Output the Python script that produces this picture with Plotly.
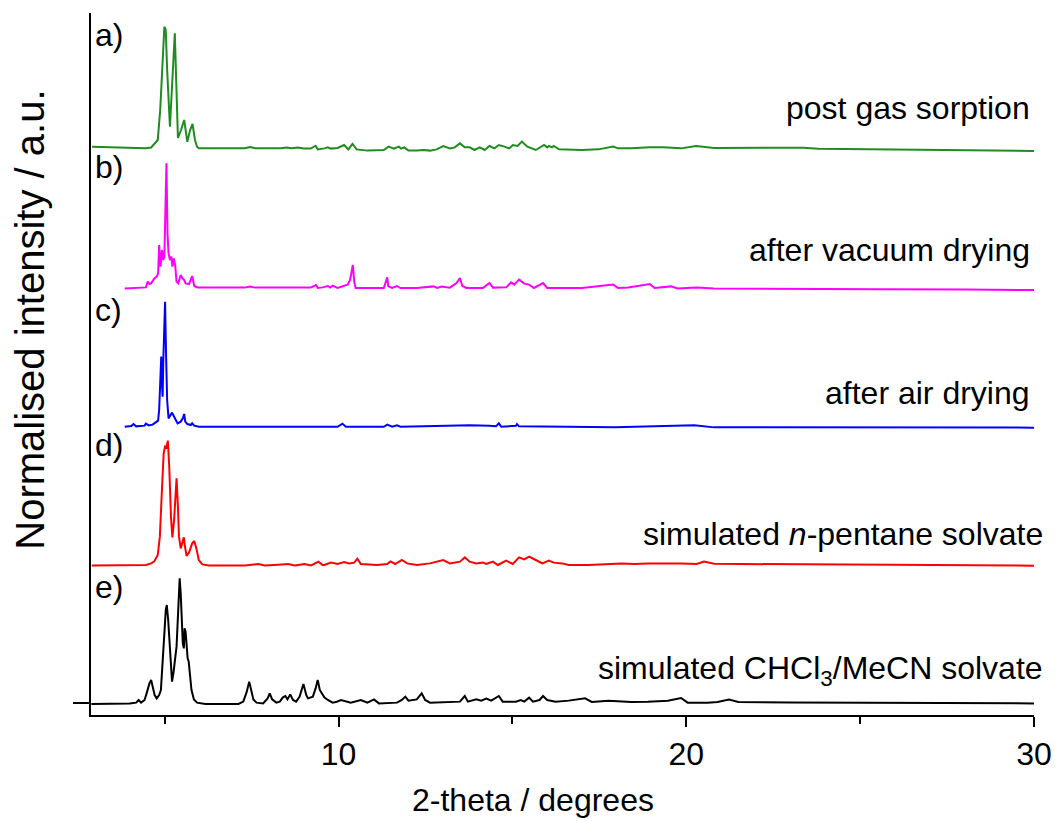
import plotly.graph_objects as go

# ---- data (2-theta in degrees, normalised intensity relative to each trace baseline) ----
green_x = [2.91, 3.5, 4.0, 4.46, 4.61, 4.80, 4.87, 4.93, 4.99, 5.03, 5.07, 5.15, 5.21, 5.29, 5.33, 5.38,
           5.47, 5.56, 5.65, 5.73, 5.80, 5.87, 5.93, 5.98, 6.5, 7.3, 7.46, 7.6, 8.35, 8.50, 8.65, 8.83,
           9.0, 9.2, 9.34, 9.40, 9.59, 9.69, 9.78, 9.88, 9.97, 10.16, 10.28, 10.40, 10.52, 10.83, 11.30,
           11.44, 11.59, 11.73, 11.80, 11.89, 12.01, 12.25, 12.44, 12.63, 12.82, 13.01, 13.20, 13.34,
           13.49, 13.63, 13.77, 13.91, 14.06, 14.20, 14.34, 14.48, 14.61, 14.77, 14.91, 15.01, 15.15,
           15.27, 15.43, 15.67, 15.91, 16.00, 16.05, 16.14, 16.19, 16.34, 17.00, 17.47, 17.90, 18.04,
           18.42, 18.95, 19.33, 19.85, 20.28, 20.80, 21.2, 21.56, 22.5, 23.36, 23.8, 25.36, 26.5, 27.25,
           28.5, 30.0]
green_y = [0.0, -0.005, -0.01, -0.012, -0.006, 0.054, 0.294, 0.694, 0.960, 0.934, 0.614, 0.160, 0.454,
           0.908, 0.534, 0.070, 0.134, 0.214, 0.040, 0.134, 0.182, 0.054, 0.0, -0.012, -0.012, -0.012,
           -0.003, -0.012, -0.012, -0.006, -0.012, -0.006, -0.014, -0.014, 0.008, -0.021, -0.013, -0.005,
           -0.015, -0.013, -0.010, 0.014, -0.021, 0.022, -0.021, -0.031, -0.026, 0.001, -0.015, 0.001,
           -0.015, -0.005, -0.031, -0.031, -0.026, -0.031, -0.021, 0.006, -0.013, -0.005, 0.027, -0.005,
           -0.005, -0.026, -0.005, -0.026, 0.006, -0.013, 0.014, 0.001, -0.013, 0.014, 0.006, 0.041,
           0.001, -0.026, 0.014, -0.005, 0.006, -0.005, 0.006, -0.021, -0.026, -0.021, 0.001, -0.013,
           -0.013, -0.005, -0.005, -0.013, 0.006, -0.010, -0.010, -0.012, -0.014, -0.008, -0.016, -0.020,
           -0.024, -0.026, -0.030, -0.034]

magenta_x = [3.85, 4.18, 4.46, 4.51, 4.56, 4.61, 4.65, 4.70, 4.77, 4.81, 4.84, 4.88, 4.92, 4.96, 4.99,
             5.02, 5.05, 5.08, 5.11, 5.15, 5.19, 5.22, 5.26, 5.30, 5.34, 5.39, 5.46, 5.51, 5.56, 5.60,
             5.70, 5.79, 5.85, 5.94, 6.36, 7.30, 7.45, 7.60, 8.26, 9.20, 9.35, 9.40, 9.54, 9.69, 9.76,
             9.83, 9.97, 10.26, 10.33, 10.41, 10.45, 10.49, 11.30, 11.37, 11.40, 11.43, 11.54, 11.68,
             11.78, 12.25, 12.73, 12.84, 12.96, 13.20, 13.39, 13.49, 13.56, 13.68, 14.15, 14.34, 14.44,
             14.82, 14.96, 15.05, 15.19, 15.34, 15.48, 15.62, 15.88, 16.00, 17.00, 17.90, 18.04, 18.33,
             18.95, 19.09, 19.56, 19.75, 20.30, 20.80, 21.5, 23.3, 25.5, 28.0, 30.0]
magenta_y = [-0.003, 0.003, 0.005, 0.051, 0.032, 0.037, 0.059, 0.077, 0.091, 0.117, 0.344, 0.171, 0.304,
             0.224, 0.251, 0.571, 0.997, 0.437, 0.277, 0.224, 0.251, 0.171, 0.237, 0.184, 0.051, 0.037,
             0.104, 0.077, 0.064, 0.037, 0.032, 0.096, 0.016, 0.005, 0.003, 0.003, 0.011, 0.003, 0.003,
             0.003, 0.024, 0.0, 0.005, 0.016, 0.003, 0.019, 0.0, 0.027, 0.064, 0.184, 0.051, 0.0, 0.0,
             0.051, 0.085, 0.013, 0.0, 0.016, 0.0, 0.0, 0.013, 0.0, 0.011, 0.003, 0.040, 0.080, 0.016,
             0.0, 0.0, 0.040, 0.003, 0.005, 0.045, 0.027, 0.067, 0.035, 0.027, 0.0, 0.040, 0.0, 0.0,
             0.027, 0.0, 0.005, 0.032, 0.0, 0.013, -0.003, 0.003, -0.003, -0.005, -0.006, -0.010, -0.013,
             -0.016]

blue_x = [3.85, 4.04, 4.10, 4.18, 4.42, 4.46, 4.54, 4.65, 4.73, 4.81, 4.84, 4.88, 4.90, 4.92, 4.94, 4.96,
          4.99, 5.01, 5.04, 5.07, 5.11, 5.16, 5.21, 5.26, 5.31, 5.37, 5.46, 5.52, 5.56, 5.59, 5.65, 5.75,
          5.79, 5.85, 5.98, 7.31, 8.26, 9.21, 9.40, 9.97, 10.11, 10.21, 11.30, 11.40, 11.54, 11.68, 11.78,
          13.01, 13.77, 14.34, 14.53, 14.61, 14.68, 15.10, 15.13, 15.19, 16.05, 17.95, 20.23, 20.80,
          22.0, 25.0, 28.0, 30.0]
blue_y = [0.001, 0.006, 0.022, 0.003, 0.009, 0.025, 0.011, 0.017, 0.033, 0.049, 0.134, 0.427, 0.561, 0.347,
          0.241, 0.534, 0.774, 1.0, 0.561, 0.214, 0.067, 0.086, 0.113, 0.086, 0.054, 0.027, 0.041, 0.067,
          0.102, 0.041, 0.022, 0.014, 0.027, 0.009, 0.001, 0.001, 0.001, 0.006, 0.0, 0.0, 0.025, 0.0, 0.0,
          0.017, 0.0, 0.011, 0.0, 0.008, 0.011, 0.008, 0.005, 0.027, 0.0, 0.008, 0.021, 0.003, 0.0, -0.005,
          0.011, -0.005, -0.003, -0.005, -0.006, -0.007]

red_x = [2.90, 3.70, 4.46, 4.61, 4.70, 4.80, 4.86, 4.92, 4.97, 5.01, 5.05, 5.09, 5.13, 5.18, 5.22, 5.27,
         5.31, 5.34, 5.38, 5.41, 5.46, 5.51, 5.55, 5.58, 5.63, 5.70, 5.79, 5.85, 5.91, 5.98, 6.08, 6.27,
         7.31, 7.69, 7.88, 8.26, 8.55, 8.74, 9.02, 9.21, 9.42, 9.54, 9.59, 9.78, 9.97, 10.16, 10.30,
         10.45, 10.54, 10.64, 11.11, 11.40, 11.49, 11.63, 11.82, 11.97, 12.25, 12.63, 12.82, 13.01,
         13.20, 13.49, 13.63, 13.77, 13.96, 14.15, 14.25, 14.44, 14.58, 14.82, 15.01, 15.19, 15.34,
         15.48, 15.67, 15.86, 16.05, 16.19, 16.43, 16.62, 17.19, 18.14, 18.52, 18.90, 19.85, 20.30,
         20.51, 20.80, 21.56, 23.3, 25.0, 27.0, 30.0]
red_y = [0.0, 0.0, 0.004, 0.017, 0.033, 0.084, 0.231, 0.604, 0.897, 0.951, 0.945, 0.999, 0.791, 0.391,
         0.225, 0.364, 0.604, 0.697, 0.471, 0.231, 0.137, 0.177, 0.225, 0.156, 0.076, 0.103, 0.177,
         0.196, 0.137, 0.044, 0.009, 0.001, 0.001, 0.012, 0.001, 0.007, 0.012, 0.001, 0.012, 0.001,
         0.031, 0.004, 0.004, 0.023, 0.012, 0.028, 0.017, 0.023, 0.055, 0.012, 0.004, 0.012, 0.033,
         0.012, 0.044, 0.017, 0.004, 0.017, 0.031, 0.044, 0.017, 0.031, 0.065, 0.031, 0.017, 0.023,
         0.012, 0.031, 0.004, 0.039, 0.012, 0.065, 0.049, 0.071, 0.044, 0.017, 0.039, 0.023, 0.017,
         0.004, 0.004, 0.017, 0.012, 0.017, 0.017, 0.012, 0.031, 0.014, 0.012, 0.010, 0.008, 0.004,
         -0.001]

black_x = [2.89, 3.42, 3.99, 4.18, 4.25, 4.32, 4.42, 4.48, 4.56, 4.61, 4.65, 4.71, 4.77, 4.84, 4.89, 4.94,
           4.99, 5.03, 5.06, 5.10, 5.14, 5.18, 5.21, 5.25, 5.30, 5.34, 5.38, 5.40, 5.43, 5.46, 5.49, 5.52,
           5.55, 5.57, 5.60, 5.63, 5.66, 5.69, 5.73, 5.77, 5.84, 5.93, 6.17, 7.12, 7.26, 7.36, 7.43, 7.48,
           7.55, 7.64, 7.83, 7.96, 8.02, 8.09, 8.21, 8.31, 8.40, 8.47, 8.53, 8.61, 8.69, 8.78, 8.88, 8.99,
           9.07, 9.12, 9.26, 9.34, 9.40, 9.46, 9.52, 9.59, 9.69, 9.83, 9.95, 10.07, 10.35, 10.64, 10.83,
           11.02, 11.16, 11.68, 11.82, 11.92, 12.01, 12.16, 12.25, 12.39, 12.49, 12.63, 13.20, 13.49,
           13.63, 13.72, 13.96, 14.10, 14.25, 14.39, 14.61, 14.72, 15.10, 15.24, 15.34, 15.48, 15.59,
           15.78, 15.88, 16.00, 16.24, 16.62, 17.09, 17.28, 17.76, 18.42, 18.90, 19.47, 19.85, 20.04,
           20.61, 20.9, 21.23, 21.5, 23.0, 25.0, 27.0, 30.0]
black_y = [-0.008, -0.008, -0.003, 0.003, 0.024, 0.003, 0.024, 0.077, 0.157, 0.184, 0.144, 0.064, 0.037,
           0.064, 0.104, 0.291, 0.557, 0.744, 0.784, 0.664, 0.451, 0.237, 0.171, 0.237, 0.371, 0.451,
           0.691, 0.877, 0.997, 0.877, 0.664, 0.477, 0.437, 0.597, 0.571, 0.424, 0.357, 0.331, 0.237,
           0.104, 0.029, 0.003, -0.008, -0.008, 0.011, 0.091, 0.171, 0.104, 0.029, 0.003, -0.003, 0.037,
           0.077, 0.029, 0.003, 0.011, 0.045, 0.056, 0.029, 0.069, 0.024, 0.011, 0.051, 0.152, 0.064,
           0.037, 0.051, 0.117, 0.184, 0.104, 0.077, 0.045, 0.024, 0.003, 0.010, 0.024, 0.003, 0.024,
           0.003, 0.029, -0.003, 0.003, 0.024, 0.051, 0.019, 0.024, 0.029, 0.077, 0.024, 0.003, 0.011,
           0.011, 0.056, 0.011, 0.029, 0.019, 0.035, 0.019, 0.056, 0.011, 0.011, 0.024, 0.011, 0.043,
           0.011, 0.024, 0.056, 0.024, 0.011, 0.019, 0.037, 0.008, 0.019, 0.008, 0.011, 0.019, 0.040,
           0.003, 0.003, 0.008, 0.027, 0.008, 0.005, 0.003, 0.0, -0.003]

offsets = [4.45, 3.32, 2.21, 1.10, 0.0]
letters = ["a)", "b)", "c)", "d)", "e)"]
names = ["post gas sorption", "after vacuum drying", "after air drying",
         "simulated <i>n</i>-pentane solvate", "simulated CHCl<sub>3</sub>/MeCN solvate"]
colors = ["#1f8c1f", "#ff00ff", "#0000ff", "#ff0000", "#000000"]
series = [(green_x, green_y), (magenta_x, magenta_y), (blue_x, blue_y), (red_x, red_y), (black_x, black_y)]

FONT = "Arial, Liberation Sans, sans-serif"
FS = 32

fig = go.Figure()
for (xs, ys), off, col in zip(series, offsets, colors):
    fig.add_trace(go.Scatter(x=xs, y=[v + off for v in ys], mode="lines",
                             line=dict(color=col, width=2), showlegend=False, hoverinfo="skip"))

# label positions (paper coords)
name_x = [0.998, 0.998, 0.998, 1.012, 1.012]
name_y = [0.8647, 0.6624, 0.4587, 0.2578, 0.0627]
letter_y = [0.9687, 0.7806, 0.5769, 0.3846, 0.1823]
ann = []
for i in range(5):
    ann.append(dict(x=name_x[i], y=name_y[i], xref="paper", yref="paper", text=names[i],
                    showarrow=False, xanchor="right", yanchor="middle",
                    font=dict(family=FONT, size=FS, color="black")))
    ann.append(dict(x=0.002, y=letter_y[i], xref="paper", yref="paper", text=letters[i],
                    showarrow=False, xanchor="left", yanchor="middle",
                    font=dict(family=FONT, size=FS, color="black")))
ann.append(dict(x=-0.065, y=0.5627, xref="paper", yref="paper", text="Normalised intensity / a.u.",
                showarrow=False, textangle=-90, xanchor="center", yanchor="middle",
                font=dict(family=FONT, size=40, color="black")))
ann.append(dict(x=0.4685, y=-0.121, xref="paper", yref="paper", text="2-theta / degrees",
                showarrow=False, xanchor="center", yanchor="middle",
                font=dict(family=FONT, size=FS, color="black")))

fig.update_layout(
    width=1064, height=821,
    margin=dict(l=91, r=21, t=13, b=106),
    paper_bgcolor="white", plot_bgcolor="white",
    annotations=ann,
    xaxis=dict(range=[2.88, 30.0], showline=True, linecolor="black", linewidth=2,
               showgrid=False, zeroline=False, ticks="outside", tickvals=[10, 20, 30],
               ticklen=10, tickwidth=2, tickcolor="black",
               tickfont=dict(family=FONT, size=FS, color="black"), ticklabelstandoff=0,
               minor=dict(tickvals=[5, 15, 25], ticks="outside", ticklen=7, tickwidth=2,
                          tickcolor="black", showgrid=False)),
    yaxis=dict(range=[-0.096, 5.52], showline=True, linecolor="black", linewidth=2,
               showgrid=False, zeroline=False, ticks="outside", tickvals=[0], ticklen=16,
               tickwidth=2, tickcolor="black", showticklabels=False),
)

fig.write_html("out.html")
